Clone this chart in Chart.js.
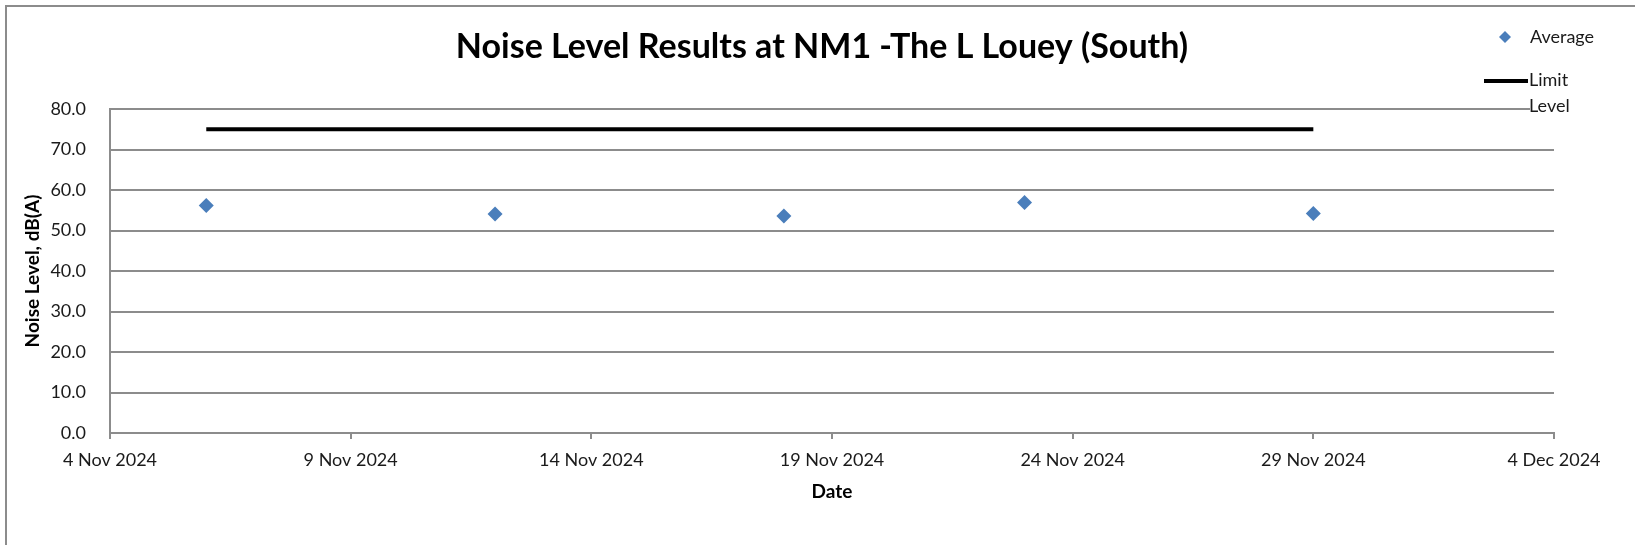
<!DOCTYPE html>
<html>
<head>
<meta charset="utf-8">
<script src="https://cdn.jsdelivr.net/npm/chart.js@4.4.1/dist/chart.umd.min.js"></script>
<style>
  html, body { margin: 0; padding: 0; background: #fff; }
  #wrap { width: 1635px; height: 545px; }
</style>
</head>
<body>
<div id="wrap"><canvas id="c" width="1635" height="545"></canvas></div>
<script>
// ---- data ----
const chartTitle = 'Noise Level Results at NM1 -The L Louey (South)';
const avgDates = ['2024-11-06', '2024-11-12', '2024-11-18', '2024-11-23', '2024-11-29'];
const avgValues = [56.2, 54.1, 53.6, 56.9, 54.2];
const limitDates = ['2024-11-06', '2024-11-29'];
const limitValues = [75, 75];
const xTickLabels = ['4 Nov 2024', '9 Nov 2024', '14 Nov 2024', '19 Nov 2024', '24 Nov 2024', '29 Nov 2024', '4 Dec 2024'];
const xStartDate = '2024-11-04';
const xStepDays = 5;
const yMin = 0, yMax = 80, yStep = 10;
const seriesNames = ['Average', 'Limit Level'];

// ---- helpers ----
function dayNum(s) {
  const [y, m, d] = s.split('-').map(Number);
  return Date.UTC(y, m - 1, d) / 86400000;
}
const x0 = dayNum(xStartDate);
const toX = s => dayNum(s) - x0;
const avgPoints = avgDates.map((d, i) => ({ x: toX(d), y: avgValues[i] }));
const limitPoints = limitDates.map((d, i) => ({ x: toX(d), y: limitValues[i] }));

const FONT = 'Lato, "Open Sans", sans-serif';
const GRID = '#8c8c8c';
const BLUE = '#4a7ebb';

const framePlugin = {
  id: 'frame',
  beforeDraw(chart) {
    const ctx = chart.ctx;
    ctx.save();
    ctx.fillStyle = '#fff';
    ctx.fillRect(0, 0, chart.width, chart.height);
    ctx.strokeStyle = GRID;
    ctx.lineWidth = 2;
    ctx.strokeRect(6, 6, chart.width + 20, chart.height + 20);
    ctx.restore();
  },
  afterDraw(chart) {
    const ctx = chart.ctx;
    ctx.save();
    // title
    ctx.fillStyle = '#000';
    ctx.font = 'bold 34px ' + FONT;
    ctx.textAlign = 'center';
    ctx.textBaseline = 'middle';
    ctx.fillText(chartTitle, 822, 47);
    // legend: Average
    ctx.fillStyle = BLUE;
    const dx = 1505, dy = 37, r = 6;
    ctx.beginPath();
    ctx.moveTo(dx - r, dy); ctx.lineTo(dx, dy - r); ctx.lineTo(dx + r, dy); ctx.lineTo(dx, dy + r);
    ctx.closePath(); ctx.fill();
    ctx.fillStyle = '#1a1a1a';
    ctx.font = '18px ' + FONT;
    ctx.textBaseline = 'middle';
    ctx.textAlign = 'left';
    ctx.fillText(seriesNames[0], 1530, 37);
    // legend: Limit Level
    ctx.strokeStyle = '#000';
    ctx.lineWidth = 4;
    ctx.beginPath(); ctx.moveTo(1484, 81); ctx.lineTo(1528, 81); ctx.stroke();
    ctx.fillStyle = '#fff';
    ctx.fillRect(1530, 97, 40, 24);
    ctx.fillStyle = '#1a1a1a';
    const parts = seriesNames[1].split(' ');
    ctx.fillText(parts[0], 1529, 80);
    ctx.fillText(parts[1], 1529, 106);
    ctx.restore();
  }
};

new Chart(document.getElementById('c'), {
  type: 'scatter',
  data: {
    datasets: [
      {
        label: seriesNames[1],
        type: 'line',
        data: limitPoints,
        borderColor: '#000',
        borderWidth: 4,
        pointRadius: 0,
        fill: false,
        order: 2
      },
      {
        label: seriesNames[0],
        data: avgPoints,
        pointStyle: 'rectRot',
        pointRadius: 7.5,
        pointHoverRadius: 7.5,
        backgroundColor: BLUE,
        borderColor: BLUE,
        borderWidth: 0,
        order: 1
      }
    ]
  },
  options: {
    responsive: false,
    animation: false,
    events: [],
    layout: { padding: { top: 109, right: 81, bottom: 0, left: 0 } },
    plugins: {
      legend: { display: false },
      tooltip: { enabled: false },
      title: { display: false }
    },
    scales: {
      x: {
        type: 'linear',
        min: 0,
        max: xStepDays * (xTickLabels.length - 1),
        afterFit: s => { s.height = 112; },
        afterBuildTicks: s => {
          s.ticks = xTickLabels.map((_, i) => ({ value: i * xStepDays }));
        },
        ticks: {
          autoSkip: false,
          maxRotation: 0,
          padding: 10,
          color: '#1a1a1a',
          font: { family: FONT, size: 18 },
          callback: v => xTickLabels[Math.round(v / xStepDays)]
        },
        grid: { drawOnChartArea: false, drawTicks: true, tickLength: 6, color: GRID, lineWidth: 2 },
        border: { display: true, color: GRID, width: 2 },
        title: {
          display: true,
          text: 'Date',
          color: '#000',
          font: { family: FONT, size: 19, weight: 'bold', lineHeight: 1.2 },
          padding: { top: 0, bottom: 42 }
        }
      },
      y: {
        min: yMin,
        max: yMax,
        afterFit: s => { s.width = 110; },
        ticks: {
          stepSize: yStep,
          padding: 24,
          color: '#1a1a1a',
          font: { family: FONT, size: 18 },
          callback: v => Number(v).toFixed(1)
        },
        grid: { drawTicks: false, color: GRID, lineWidth: 2 },
        border: { display: true, color: GRID, width: 2 },
        title: {
          display: true,
          text: 'Noise Level, dB(A)',
          color: '#000',
          font: { family: FONT, size: 19, weight: 'bold', lineHeight: 1.2 },
          padding: { top: 21, bottom: 0 }
        }
      }
    }
  },
  plugins: [framePlugin]
});
</script>
</body>
</html>
